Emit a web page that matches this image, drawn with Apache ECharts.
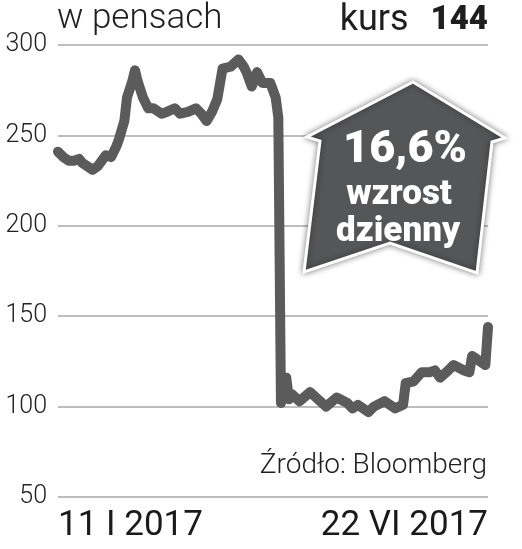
<!DOCTYPE html>
<html>
<head>
<meta charset="utf-8">
<script src="https://cdn.jsdelivr.net/npm/echarts@6/dist/echarts.min.js"></script>
<style>
html,body{margin:0;padding:0;background:#fff;}
#c{width:522px;height:549px;}
</style>
</head>
<body>
<div id="c"></div>
<script>
// Days since 11 I 2017 (calendar days)
const days = [0,2,4,6,8,9,13,15,18,20,22,23,25,26,28,29,30,32,34,36,39,41,44,46,49,52,54,56,58,60,62,65,68,70,71,73,75,77,80,82,83,84,86,87,88,91,95,98,101,105,109,111,113,117,119,123,127,130,131,134,137,140,142,144,147,149,153,155,156,159,161,162];
const prices = [241,238,236,236,237,235,231,233,239,238,244,248,258,271,280,286,280,271,265,265,262,263,265,262,263,265,262,258,263,270,287,288,292,288,285,277,285,279,279,271,260,102,116,104,107,103,108,104,100,105,102,99,101,97,100,103,99,101,113,114,119,119,120,116,120,123,120,119,128,125,123,144];
const xTickLabels = {0: '11 I 2017', 162: '22 VI 2017'};
const yTicks = [50,100,150,200,250,300];

const chart = echarts.init(document.getElementById('c'), null, {renderer: 'canvas'});
const FONT = 'Roboto';
chart.setOption({
  animation: false,
  backgroundColor: '#ffffff',
  grid: {left: 58, right: 34, top: 45, bottom: 52},
  xAxis: {
    type: 'value', min: 0, max: 162, interval: 162,
    axisLine: {show: false}, axisTick: {show: false}, splitLine: {show: false},
    axisLabel: {
      show: true, showMinLabel: true, showMaxLabel: true,
      alignMinLabel: 'left', alignMaxLabel: 'right',
      formatter: v => xTickLabels[v] || '',
      fontFamily: FONT, fontSize: 35, fontWeight: 400, color: '#1a1a1a', margin: 12
    }
  },
  yAxis: {
    type: 'value', min: yTicks[0], max: yTicks[yTicks.length-1], interval: 50,
    axisLine: {show: false}, axisTick: {show: false},
    splitLine: {show: true, lineStyle: {color: '#a8a8a8', width: 1.5}},
    axisLabel: {fontFamily: FONT, fontSize: 25, fontWeight: 300, color: '#222', margin: 11}
  },
  series: [{
    type: 'line',
    data: days.map((d, i) => [d, prices[i]]),
    symbol: 'none',
    lineStyle: {color: '#5b5b5b', width: 10, cap: 'round', join: 'round'},
    z: 3
  }],
  graphic: [
    {type: 'text', left: 57, top: 2, style: {text: 'w pensach', font: '300 35px Roboto', fill: '#1e1e1e'}},
    {type: 'text', right: 34, top: 3, style: {
      text: '{a|kurs}{b|144}',
      rich: {a: {font: '400 36px Roboto', fill: '#1e1e1e', padding: [0, 22, 0, 0]}, b: {font: '900 33px Roboto', fill: '#1e1e1e'}}
    }},
    {type: 'text', right: 35, top: 452, style: {text: 'Źródło: Bloomberg', font: '300 28px Roboto', fill: '#1e1e1e'}},
    {type: 'polygon', z: 10,
      shape: {points: [[413,82],[505,138],[492,142],[477,273],[390,243],[304,272],[320,141],[307,137]]},
      style: {fill: '#555658', stroke: '#ffffff', lineWidth: 3, shadowBlur: 6, shadowColor: 'rgba(0,0,0,0.45)'}
    },
    {type: 'text', z: 11, x: 405, y: 151, style: {text: '16,6%', font: '900 45px Roboto', fill: '#fff', align: 'center', verticalAlign: 'middle'}},
    {type: 'text', z: 11, x: 399, y: 195, style: {text: 'wzrost', font: '900 35px Roboto', fill: '#fff', align: 'center', verticalAlign: 'middle'}},
    {type: 'text', z: 11, x: 398, y: 232, style: {text: 'dzienny', font: '900 35px Roboto', fill: '#fff', align: 'center', verticalAlign: 'middle'}}
  ]
});
</script>
</body>
</html>
